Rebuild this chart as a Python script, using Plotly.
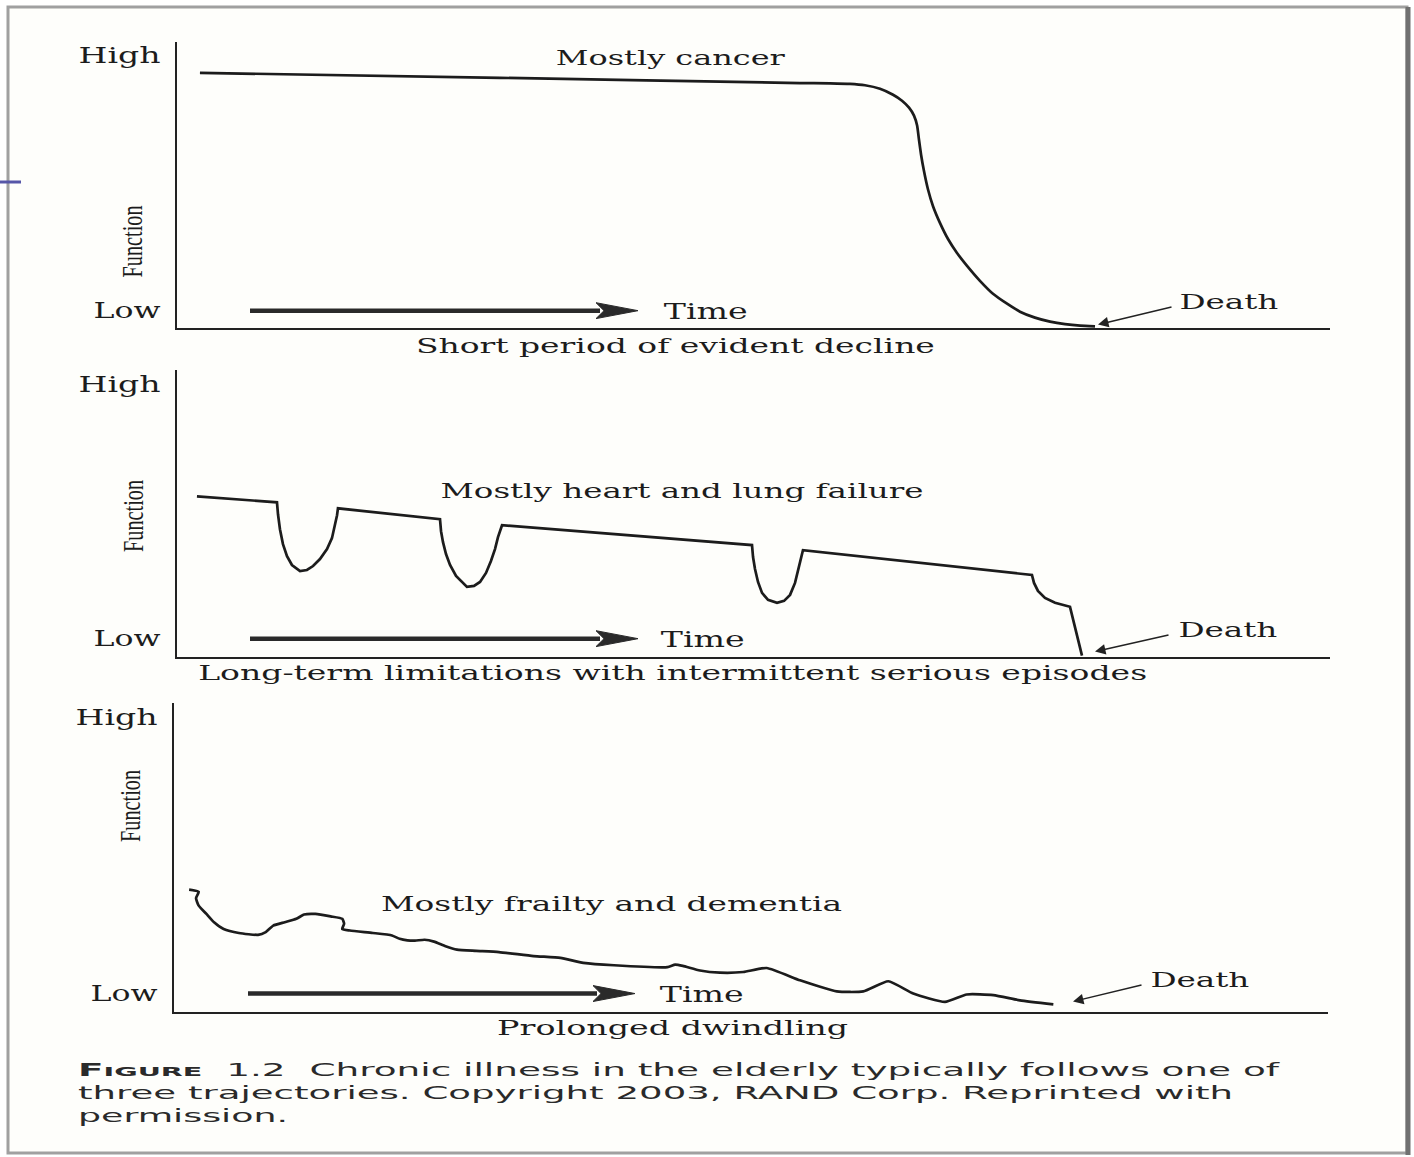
import json
import re
import plotly.graph_objects as go

W, H = 1414, 1157

# ---------------- data (time 0-100, function 0-100) ----------------
cancer_time = [1.99, 28.01, 54.03, 56.64, 58.37, 59.67, 60.97, 62.10, 62.88, 63.49, 63.92,
               64.19, 64.35, 64.53, 64.79, 65.13, 65.57, 66.18, 66.87, 67.65, 68.52, 69.64,
               70.77, 71.99, 73.11, 74.41, 75.72, 77.02, 78.32, 79.62]
cancer_func = [89.16, 87.41, 85.56, 85.49, 85.31, 84.79, 83.57, 81.47, 79.37, 76.92, 74.13,
               70.63, 65.73, 60.49, 54.55, 48.25, 42.31, 36.36, 30.77, 25.87, 21.33, 16.08,
               11.54, 8.04, 5.24, 3.15, 1.75, 0.87, 0.35, 0.10]

organ_time = [1.73,
              8.67, 8.76, 8.93, 9.19, 9.54, 9.97, 10.67, 11.27, 11.80, 12.40, 13.01, 13.44, 13.70, 13.88, 13.96,
              22.81, 22.90, 23.07, 23.33, 23.68, 24.20, 25.15, 25.76, 26.28, 26.80, 27.23, 27.58, 27.84, 28.19,
              49.87, 49.96, 50.13, 50.39, 50.74, 51.26, 52.04, 52.65, 53.17, 53.60, 53.86, 54.12, 54.29,
              74.15, 74.33, 74.67, 75.28, 76.15, 77.45, 78.49]
organ_func = [55.75,
              53.66, 49.48, 44.25, 39.02, 34.84, 31.71, 29.62, 29.97, 31.36, 33.80, 37.28, 41.11, 45.30, 49.13, 51.57,
              47.74, 43.55, 39.72, 35.54, 31.71, 27.87, 24.04, 24.39, 25.78, 28.92, 33.10, 37.28, 41.46, 45.64,
              38.68, 34.49, 30.31, 25.78, 21.95, 19.51, 18.47, 19.16, 21.25, 25.44, 29.62, 33.80, 36.93,
              28.22, 25.44, 22.65, 20.21, 18.47, 17.07, 0.0]

frail_time = [1.31, 2.14, 1.91, 2.14, 2.81, 3.47, 4.30, 5.62, 7.28, 7.95, 8.60, 9.60,
              10.60, 11.27, 12.25, 13.58, 14.58, 14.74, 14.58, 15.24, 17.23, 18.89,
              19.55, 20.22, 20.88, 21.71, 22.53, 23.53, 24.52, 26.19, 28.16, 31.16,
              33.48, 35.47, 38.13, 42.76, 43.43, 44.09, 45.58, 47.31, 49.33, 51.36,
              54.25, 57.43, 59.73, 61.90, 64.06, 66.81, 68.69, 71.00, 73.31, 76.20]
frail_func = [39.3, 38.6, 36.5, 34.1, 31.4, 28.7, 26.5, 25.2, 24.6, 25.5, 27.6, 28.7,
              29.8, 31.2, 31.4, 30.6, 29.8, 28.2, 26.5, 26.0, 25.2, 24.4,
              23.3, 22.8, 22.7, 23.0, 22.4, 20.9, 19.8, 19.4, 19.0, 17.7,
              17.1, 15.5, 14.7, 14.1, 14.9, 14.5, 13.0, 12.3, 12.5, 13.8,
              9.8, 6.2, 6.2, 9.5, 5.5, 2.8, 5.2, 5.0, 3.3, 2.0]

panel_titles = ["Mostly cancer", "Mostly heart and lung failure", "Mostly frailty and dementia"]
panel_captions = ["Short period of evident decline",
                  "Long-term limitations with intermittent serious episodes",
                  "Prolonged dwindling"]
tick_labels = ["Low", "High"]
tick_values = [[5.6, 95.5], [5.9, 95.1], [5.5, 95.5]]

caption_lines = ["<b>F<span style='font-size:13px'>IGURE</span></b>  1.2  Chronic illness in the elderly typically follows one of",
                 "three trajectories. Copyright 2003, RAND Corp. Reprinted with",
                 "permission."]

# ---------------- layout geometry (pixels) ----------------
panels = [(177, 1330, 42, 328), (177, 1330, 370, 657), (174, 1328, 703, 1012)]
title_pos = [(671, 58), (682, 491), (611, 904)]
cap_pos = [(675, 346), (672, 673), (672, 1028)]
time_arrow = [(250, 638, 312), (250, 638, 640), (248, 635, 995)]
time_pos = [(706, 311), (703, 639), (702, 994)]
death_lbl = [(1229, 302), (1228, 630), (1200, 980)]
death_tail = [(1173, 308), (1170, 636), (1143, 986)]
death_tip = [(1098, 326), (1095, 653), (1073, 1003)]

# rendered text widths of the (horizontally stretched) scan
text_widths = {
    "High": 82, "Low": 67, "Function": 72, "Time": 84, "Death": 99,
    "Mostly cancer": 229, "Mostly heart and lung failure": 483,
    "Mostly frailty and dementia": 461,
    "Short period of evident decline": 519,
    "Long-term limitations with intermittent serious episodes": 949,
    "Prolonged dwindling": 351,
}
caption_widths = [1201, 1155, 210]


def px(x):
    return x / W


def py(y):
    return 1 - y / H


INK = "#1c1c1c"
SERIF = "DejaVu Serif, serif"

fig = go.Figure()
series = [(cancer_time, cancer_func, "spline"), (organ_time, organ_func, "linear"),
          (frail_time, frail_func, "spline")]
layout = dict(width=W, height=H, margin=dict(l=0, r=0, t=0, b=0),
              paper_bgcolor="white", plot_bgcolor="rgba(0,0,0,0)", showlegend=False)
annotations, shapes = [], []

# page frame
shapes.append(dict(type="rect", xref="paper", yref="paper", x0=px(8), x1=px(1407), y0=py(1153), y1=py(7),
                   line=dict(color="#a0a0a0", width=3), fillcolor="#fefefb", layer="below"))
shapes.append(dict(type="line", xref="paper", yref="paper", x0=px(1408), x1=px(1408), y0=py(1155), y1=py(7),
                   line=dict(color="#707070", width=5), layer="below"))
shapes.append(dict(type="line", xref="paper", yref="paper", x0=px(0), x1=px(21), y0=py(182), y1=py(182),
                   line=dict(color="#5656a8", width=3)))

for i, ((t, f, shp), (l, r, top, bot)) in enumerate(zip(series, panels)):
    sfx = "" if i == 0 else str(i + 1)
    xa, ya = "x" + sfx, "y" + sfx
    line = dict(color=INK, width=2.7, shape=shp)
    if shp == "spline":
        line["smoothing"] = 0.5
    fig.add_trace(go.Scatter(x=t, y=f, mode="lines", xaxis=xa, yaxis=ya, line=line, hoverinfo="skip"))
    layout["xaxis" + sfx] = dict(domain=[px(l), px(r)], range=[0, 100], anchor=ya,
                                 showline=True, linecolor="#222", linewidth=2,
                                 showgrid=False, zeroline=False, showticklabels=False, ticks="")
    layout["yaxis" + sfx] = dict(domain=[py(bot), py(top)], range=[-0.5, 100], anchor=xa,
                                 showline=True, linecolor="#222", linewidth=2,
                                 showgrid=False, zeroline=False, ticks="",
                                 tickvals=tick_values[i], ticktext=tick_labels,
                                 ticklabelstandoff=10,
                                 tickfont=dict(family=SERIF, size=22, color=INK))
    hpx, wpx = bot - top, r - l

    def ty(pix, bot=bot, hpx=hpx):
        return (bot - pix) / hpx * 100

    def tx(pix, l=l, wpx=wpx):
        return (pix - l) / wpx * 100

    annotations.append(dict(xref="paper", yref="paper", x=px(l - 63), y=py((top + bot) / 2 + 2),
                            text="Function", textangle=-90, showarrow=False,
                            font=dict(family="Liberation Serif, serif", size=29, color=INK)))
    annotations.append(dict(xref="paper", yref="paper", x=px(title_pos[i][0]), y=py(title_pos[i][1]),
                            text=panel_titles[i], showarrow=False, xanchor="center", yanchor="middle",
                            font=dict(family=SERIF, size=21, color=INK)))
    annotations.append(dict(xref="paper", yref="paper", x=px(cap_pos[i][0]), y=py(cap_pos[i][1]),
                            text=panel_captions[i], showarrow=False, xanchor="center", yanchor="middle",
                            font=dict(family=SERIF, size=21, color=INK)))
    # time arrow
    x_start, x_end, arr_y = time_arrow[i]
    head_len = 42
    shapes.append(dict(type="line", xref=xa, yref=ya, x0=tx(x_start), x1=tx(x_end - head_len + 4),
                       y0=ty(arr_y), y1=ty(arr_y), line=dict(color="#2a2a2a", width=4.5)))
    shapes.append(dict(type="path", xref=xa, yref=ya,
                       path=f"M {tx(x_end - head_len)},{ty(arr_y - 8)} L {tx(x_end)},{ty(arr_y)} "
                            f"L {tx(x_end - head_len)},{ty(arr_y + 8)} L {tx(x_end - head_len + 8)},{ty(arr_y)} Z",
                       fillcolor="#2a2a2a", line=dict(color="#2a2a2a", width=1)))
    annotations.append(dict(xref="paper", yref="paper", x=px(time_pos[i][0]), y=py(time_pos[i][1]),
                            text="Time", showarrow=False, xanchor="center", yanchor="middle",
                            font=dict(family=SERIF, size=22, color=INK)))
    annotations.append(dict(xref="paper", yref="paper", x=px(death_lbl[i][0]), y=py(death_lbl[i][1]),
                            text="Death", showarrow=False, xanchor="center", yanchor="middle",
                            font=dict(family=SERIF, size=21, color=INK)))
    annotations.append(dict(xref=xa, yref=ya, axref=xa, ayref=ya,
                            x=tx(death_tip[i][0]), y=ty(death_tip[i][1]),
                            ax=tx(death_tail[i][0]), ay=ty(death_tail[i][1]),
                            text="", showarrow=True, arrowhead=2, arrowsize=1.4, arrowwidth=1.5,
                            arrowcolor="#222"))

# figure caption
for k, line in enumerate(caption_lines):
    annotations.append(dict(xref="paper", yref="paper", x=px(76), y=py(1070 + 23 * k),
                            text=line, showarrow=False, xanchor="left", yanchor="middle", align="left",
                            font=dict(family="DejaVu Sans, sans-serif", size=17, color="#2a2a2a")))


def plain(s):
    return re.sub(r"\s+", " ", re.sub(r"<[^>]+>", "", s)).strip()


for line, w in zip(caption_lines, caption_widths):
    text_widths[plain(line)] = w

layout["annotations"] = annotations
layout["shapes"] = shapes
fig.update_layout(**layout)

post = """
document.body.style.margin = '0';
document.body.style.padding = '0';
var TW = %s;
document.querySelectorAll('svg text').forEach(function (t) {
  var k = t.textContent.replace(/\\s+/g, ' ').trim();
  if (Object.prototype.hasOwnProperty.call(TW, k)) {
    t.setAttribute('textLength', TW[k]);
    t.setAttribute('lengthAdjust', 'spacingAndGlyphs');
  }
});
""" % json.dumps(text_widths)

fig.write_html("out.html", post_script=post, config={"displayModeBar": False})
